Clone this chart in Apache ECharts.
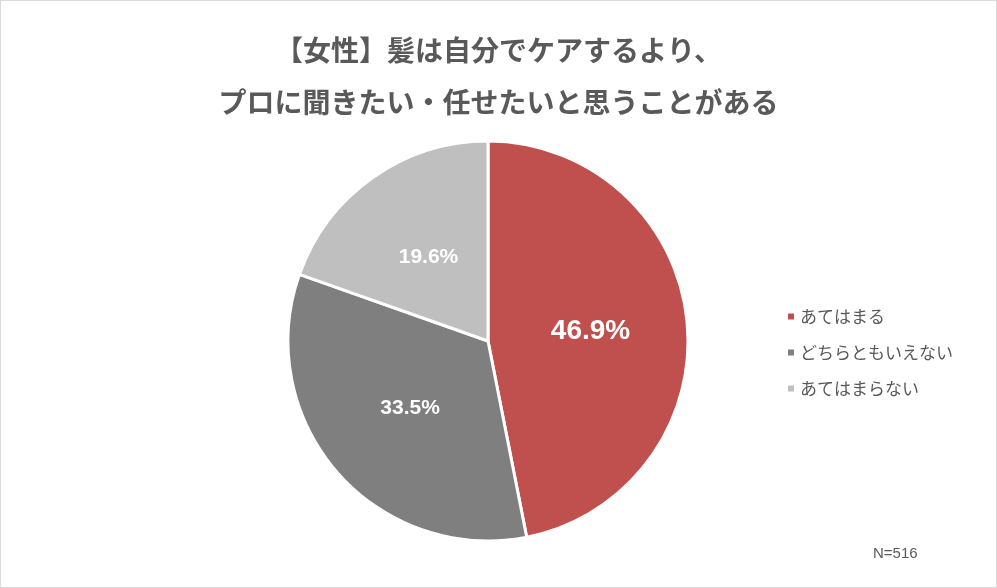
<!DOCTYPE html>
<html><head><meta charset="utf-8">
<script src="https://cdn.jsdelivr.net/npm/echarts@6/dist/echarts.min.js"></script>
<style>html,body{margin:0;padding:0;background:#fff}#c{width:997px;height:588px;box-sizing:border-box;border:1px solid #d9d9d9}</style>
</head><body><div id="c"></div>
<script>
const categories = ['あてはまる','どちらともいえない','あてはまらない'];
const values = [46.9, 33.5, 19.6];
const colors = ['#C0504D','#7F7F7F','#BFBFBF'];
const labelSizes = [28, 21, 21];
const chart = echarts.init(document.getElementById('c'));
chart.setOption({
  animation:false,
  title:{text:'【女性】髪は自分でケアするより、\nプロに聞きたい・任せたいと思うことがある',left:'center',top:18,
    textStyle:{fontFamily:'Noto Sans CJK JP',fontSize:28,fontWeight:'bold',color:'#595959',lineHeight:52}},
  legend:{orient:'vertical',left:780,top:302,itemWidth:8,itemHeight:8,itemGap:19,icon:'rect',
    textStyle:{fontFamily:'Noto Sans CJK JP',fontSize:17,color:'#595959'}},
  graphic:[{type:'text',left:872,top:545,style:{text:'N=516',fontFamily:'Liberation Sans',fontSize:15,fill:'#595959'}}],
  series:[{type:'pie',center:[487,340],radius:[0,200],startAngle:90,clockwise:true,
    itemStyle:{borderColor:'#fff',borderWidth:3},
    label:{position:'inside',color:'#fff',fontWeight:'bold',fontFamily:'Liberation Sans',formatter:'{c}%'},
    labelLine:{show:false},
    data:categories.map((n,i)=>({name:n,value:values[i],itemStyle:{color:colors[i]},label:{fontSize:labelSizes[i]}}))
  }]
});
</script></body></html>
